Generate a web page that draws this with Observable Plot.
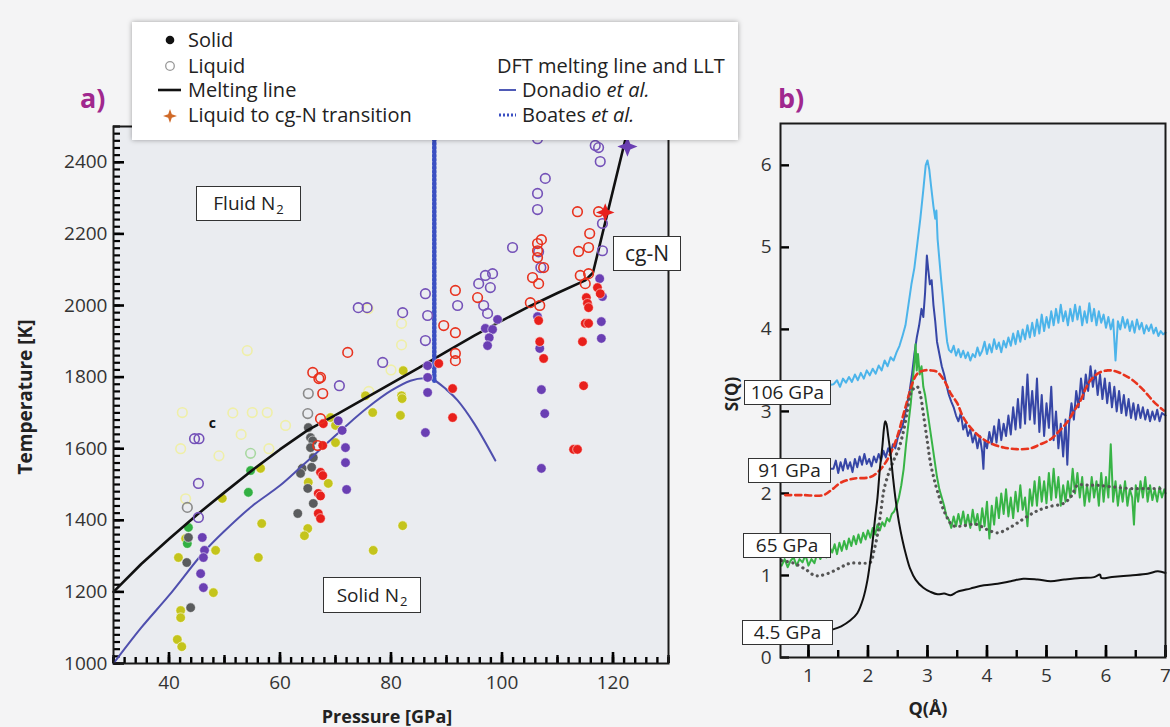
<!DOCTYPE html>
<html>
<head>
<meta charset="utf-8">
<script src="https://cdn.jsdelivr.net/npm/d3@7"></script>
<script src="https://cdn.jsdelivr.net/npm/@observablehq/plot@0.6"></script>
<style>
  body { margin: 0; background: #f4f4f5; font-family: "Open Sans", sans-serif; }
  #wrap { position: relative; width: 1170px; height: 727px; overflow: hidden; background: #f4f4f5; }
  .layer { position: absolute; top: 0; }
  .box { position: absolute; background: #fff; border: 1.5px solid #333; color: #222;
         font-size: 19px; line-height: 1; display: flex; align-items: center; justify-content: center; box-sizing: border-box; white-space: nowrap; }
  .box .sub { font-size: 13px; position: relative; top: 6px; margin-left: 1px; }
  .title { position: absolute; font-weight: bold; color: #222; font-size: 18px; white-space: nowrap; }
  .panel { position: absolute; font-weight: bold; color: #a0288e; font-size: 27px; }
  #legend { position: absolute; left: 132px; top: 22px; width: 606px; height: 118px; background: #fff;
            box-shadow: 0 0 5px rgba(0,0,0,0.35); font-size: 20px; color: #222; }
  #legend .item { position: absolute; white-space: nowrap; line-height: 22px; }
  #legend svg { position: absolute; }
</style>
</head>
<body>
<div id="wrap"></div>
<script>
// ---------------- Panel a data: [Pressure GPa, Temperature K] ----------------
const meltLine = [[30,1200],[35,1278],[40,1348],[45,1415],[50,1478],[55,1540],[60,1598],[65,1652],[70,1694],[75,1738],[80,1782],[85,1826],[90,1871],[95,1916],[100,1958],[105,1998],[110,2035],[115,2070],[116.4,2092],[122.8,2500]];
const donadio = [[30,1000],[35,1100],[40,1190],[46.2,1310],[50,1370],[55,1440],[60,1497],[63.7,1548],[68.6,1617],[72,1665],[75.8,1715],[80,1762],[83.5,1790],[86,1797],[87.7,1792],[90,1765],[92,1735],[95,1670],[98.8,1567]];
const boates = [[87.8,1790],[87.8,2500]];

const purpleSolid = [[46,1352],[46.4,1316],[46.2,1296],[45.7,1251],[46.2,1212],[70.5,1678],[71.2,1651],[71.8,1603],[71.8,1561],[72,1486],[86.2,1645],[86.6,1832],[86.6,1799],[86.6,1757],[97,1936],[98.3,1933],[99.2,1961],[97.7,1910],[97.4,1888],[106.4,1969],[106.8,1880],[107.1,1765],[107.7,1698],[107.1,1545],[117.6,2075],[118.1,2025],[117.9,1955],[117.9,1908]];
const redSolid = [[67.8,1670],[67.7,1609],[67.3,1534],[67.7,1525],[66.9,1475],[67.3,1468],[66.9,1419],[67.3,1405],[88.6,1838],[91.1,1768],[91.1,1687],[106.6,1958],[106.8,1899],[107.5,1852],[117.2,2050],[117.7,2033],[115.2,2022],[115.4,2006],[115.6,1994],[115,1950],[115.6,1950],[114.5,1899],[114.7,1776],[112.9,1598],[113.6,1598]];
const graySolid = [[43.5,1352],[43.2,1282],[43.9,1156],[65.1,1659],[65.5,1631],[65.9,1622],[65.5,1603],[66,1575],[64,1545],[63.7,1531],[65.7,1548],[65,1489],[66,1447],[63.2,1419]];
const greenSolid = [[43.5,1380],[43.3,1335],[54.7,1539],[54.3,1478]];
const yellowSolid = [[41.7,1296],[48.4,1316],[48,1198],[42.1,1148],[42.1,1128],[41.5,1067],[42.3,1047],[56.5,1545],[49.6,1461],[56.7,1391],[56.1,1296],[43,1349],[69.1,1687],[70,1617],[65.1,1506],[68.7,1503],[65,1377],[64.4,1357],[76.7,1701],[81.7,1693],[82.1,1385],[76.8,1316],[82.2,1818],[75.4,1748],[81.9,1748],[82,1740],[70,1665]];
const purpleLiquid = [[44.6,1628],[45.4,1628],[45.3,1503],[45.3,1408],[74.1,1994],[75.7,1994],[82.1,1980],[86.2,2033],[86.6,1972],[86.2,1902],[92,2000],[96.7,2000],[97.4,1978],[98.3,2089],[97,2084],[95.8,2061],[97.9,2050],[78.5,1841],[70.7,1776],[106.4,2466],[107.8,2355],[106.4,2313],[106.4,2268],[101.9,2162],[106.6,2150],[107,2106],[116.8,2447],[117.4,2441],[117.7,2402],[118.1,2229],[118.1,2153]];
const redLiquid = [[67.3,1684],[66.8,1609],[91.6,2042],[95.6,2022],[89.5,1944],[91.6,1924],[91.6,1866],[91.6,1846],[72.2,1869],[65.9,1813],[67,1796],[67.3,1799],[67.7,1754],[106.4,2173],[107.1,2184],[106.4,2153],[106.4,2134],[107.5,2106],[105.5,2078],[106.6,2061],[105.1,2008],[106.8,2000],[113.6,2262],[117.4,2262],[115.8,2201],[115.6,2162],[113.8,2151],[114.1,2084],[115.6,2089],[115,2061]];
const grayLiquid = [[43.3,1436],[65,1698],[65.1,1754]];
const greenLiquid = [[54.7,1587]];
const paleLiquid = [[42.4,1701],[55,1701],[57.7,1701],[42.1,1600],[54.1,1874],[75.9,1991],[81.9,1950],[81.9,1890],[80,1820],[76,1760],[43,1460],[53,1640],[61,1665],[49,1580],[58,1600],[51.5,1700]];
const purpleStar = [[122.6,2444]];
const redStar = [[118.6,2260]];
const strayMark = [{P: 47.8, T: 1670, text: "c"}];

const xTicksA = [40, 60, 80, 100, 120];
const yTicksA = [1000, 1200, 1400, 1600, 1800, 2000, 2200, 2400];

// ---------------- Panel b data: [Q (Å), S(Q)] ----------------
const black45 = [[1.4,0.34],[1.55,0.38],[1.7,0.45],[1.82,0.54],[1.92,0.72],[1.99,0.94],[2.06,1.3],[2.12,1.7],[2.16,1.95],[2.2,2.3],[2.24,2.56],[2.27,2.8],[2.29,2.88],[2.31,2.85],[2.34,2.7],[2.38,2.48],[2.42,2.2],[2.46,1.95],[2.52,1.65],[2.58,1.43],[2.64,1.25],[2.71,1.08],[2.8,0.95],[2.93,0.85],[3.05,0.8],[3.17,0.77],[3.28,0.78],[3.39,0.76],[3.5,0.8],[3.72,0.84],[3.95,0.88],[4.18,0.9],[4.4,0.93],[4.61,0.96],[4.85,0.95],[5.07,0.93],[5.3,0.95],[5.57,0.97],[5.8,0.98],[5.9,1.01],[5.92,0.97],[6.1,0.98],[6.41,1.0],[6.7,1.02],[6.87,1.05],[7.0,1.03]];
const gray65 = [[0.55,1.18],[0.75,1.15],[0.98,1.06],[1.1,1.0],[1.2,1.0],[1.35,1.03],[1.49,1.08],[1.6,1.12],[1.71,1.15],[1.9,1.15],[2.04,1.16],[2.1,1.3],[2.16,1.5],[2.22,1.8],[2.27,2.05],[2.35,2.25],[2.43,2.4],[2.52,2.55],[2.6,2.77],[2.66,3.0],[2.71,3.2],[2.77,3.28],[2.83,3.3],[2.88,3.2],[2.93,2.97],[3.0,2.62],[3.05,2.37],[3.11,2.18],[3.17,2.02],[3.27,1.8],[3.35,1.68],[3.42,1.61],[3.55,1.6],[3.7,1.62],[3.84,1.62],[4.0,1.56],[4.18,1.52],[4.35,1.57],[4.51,1.64],[4.7,1.73],[4.85,1.79],[5.05,1.84],[5.29,1.88],[5.42,1.97],[5.52,2.1],[5.7,2.1],[5.86,2.1],[6.1,2.08],[6.41,2.06],[6.7,2.06],[6.97,2.06]];
const red91 = [[0.61,1.98],[0.9,1.98],[1.25,1.98],[1.4,2.05],[1.54,2.13],[1.75,2.18],[2.04,2.2],[2.18,2.27],[2.29,2.37],[2.4,2.52],[2.5,2.71],[2.58,2.92],[2.66,3.13],[2.75,3.35],[2.83,3.46],[2.94,3.5],[3.05,3.5],[3.14,3.49],[3.22,3.44],[3.31,3.34],[3.39,3.22],[3.5,3.1],[3.6,2.93],[3.75,2.78],[3.94,2.66],[4.1,2.6],[4.28,2.56],[4.5,2.54],[4.73,2.55],[4.9,2.6],[5.07,2.66],[5.2,2.75],[5.35,2.87],[5.46,3.0],[5.57,3.13],[5.66,3.28],[5.74,3.38],[5.88,3.47],[6.03,3.5],[6.16,3.49],[6.29,3.45],[6.45,3.38],[6.63,3.26],[6.8,3.12],[6.97,3.01]];
const lightBlue106 = [[0.6,3.22],[0.8,3.25],[1.0,3.27],[1.2,3.3],[1.42,3.33],[1.48,3.38],[1.53,3.3],[1.58,3.4],[1.63,3.35],[1.68,3.42],[1.73,3.36],[1.78,3.45],[1.83,3.38],[1.88,3.47],[1.93,3.4],[1.98,3.5],[2.03,3.44],[2.08,3.52],[2.13,3.46],[2.18,3.56],[2.23,3.5],[2.28,3.62],[2.33,3.55],[2.38,3.66],[2.43,3.62],[2.48,3.72],[2.53,3.8],[2.58,3.92],[2.63,4.05],[2.68,4.3],[2.73,4.55],[2.78,4.75],[2.83,5.05],[2.88,5.35],[2.93,5.7],[2.97,6.0],[3.0,6.06],[3.03,5.95],[3.06,5.75],[3.1,5.5],[3.13,5.35],[3.15,5.45],[3.17,5.1],[3.2,4.85],[3.23,4.6],[3.27,4.3],[3.3,4.05],[3.33,3.85],[3.36,3.75],[3.4,3.72],[3.44,3.8],[3.48,3.68],[3.52,3.76],[3.56,3.66],[3.6,3.74],[3.64,3.65],[3.68,3.72],[3.72,3.62],[3.76,3.7],[3.8,3.66],[3.84,3.78],[3.88,3.68],[3.92,3.74],[3.96,3.85],[4.0,3.7],[4.04,3.82],[4.08,3.72],[4.12,3.88],[4.16,3.76],[4.2,3.84],[4.24,3.72],[4.28,3.86],[4.32,3.78],[4.36,3.9],[4.4,3.8],[4.44,3.95],[4.48,3.82],[4.52,3.98],[4.56,3.85],[4.6,4.0],[4.64,3.88],[4.68,4.05],[4.72,3.9],[4.76,4.08],[4.8,3.92],[4.84,4.12],[4.88,3.95],[4.92,4.18],[4.96,3.98],[5.0,4.15],[5.04,4.02],[5.08,4.22],[5.12,4.05],[5.16,4.25],[5.2,4.08],[5.24,4.3],[5.28,4.1],[5.32,4.22],[5.36,4.05],[5.4,4.25],[5.44,4.1],[5.48,4.3],[5.52,4.12],[5.56,4.28],[5.6,4.05],[5.64,4.22],[5.68,4.08],[5.72,4.32],[5.76,4.1],[5.8,4.25],[5.84,4.05],[5.88,4.22],[5.92,4.08],[5.96,4.18],[6.0,4.02],[6.04,4.15],[6.08,4.0],[6.12,4.12],[6.16,3.62],[6.2,4.1],[6.24,4.0],[6.28,4.15],[6.32,4.02],[6.36,4.12],[6.4,3.98],[6.44,4.1],[6.48,3.96],[6.52,4.12],[6.56,4.0],[6.6,4.08],[6.64,3.95],[6.68,4.05],[6.72,3.98],[6.76,4.06],[6.8,3.95],[6.84,4.02],[6.88,3.92],[6.92,3.98],[6.96,3.94],[7.0,3.96]];
const blue91 = [[0.6,2.3],[0.9,2.28],[1.2,2.3],[1.42,2.3],[1.46,2.4],[1.5,2.25],[1.54,2.38],[1.58,2.28],[1.62,2.42],[1.66,2.3],[1.7,2.38],[1.74,2.26],[1.78,2.42],[1.82,2.32],[1.86,2.45],[1.9,2.35],[1.94,2.48],[1.98,2.36],[2.02,2.42],[2.06,2.33],[2.1,2.45],[2.14,2.38],[2.18,2.48],[2.22,2.4],[2.26,2.52],[2.3,2.44],[2.34,2.55],[2.38,2.48],[2.42,2.6],[2.46,2.55],[2.5,2.68],[2.54,2.75],[2.58,2.82],[2.62,2.95],[2.66,3.1],[2.7,3.25],[2.74,3.45],[2.78,3.7],[2.82,3.9],[2.86,4.05],[2.9,4.25],[2.93,4.15],[2.96,4.45],[2.99,4.9],[3.01,4.75],[3.04,4.55],[3.07,4.6],[3.1,4.3],[3.13,4.1],[3.16,3.85],[3.2,3.7],[3.24,3.55],[3.28,3.45],[3.32,3.32],[3.36,3.2],[3.4,3.12],[3.44,3.05],[3.48,2.95],[3.52,2.88],[3.56,2.98],[3.6,2.78],[3.64,2.85],[3.68,2.7],[3.72,2.78],[3.76,2.62],[3.8,2.72],[3.84,2.55],[3.88,2.7],[3.92,2.5],[3.94,2.3],[3.96,2.65],[4.0,2.55],[4.04,2.75],[4.08,2.6],[4.12,2.82],[4.16,2.62],[4.2,2.9],[4.24,2.65],[4.28,2.85],[4.32,2.7],[4.36,2.95],[4.4,2.72],[4.44,3.05],[4.48,2.78],[4.52,3.15],[4.56,2.8],[4.6,3.3],[4.64,2.85],[4.68,3.45],[4.72,2.9],[4.76,3.25],[4.8,2.85],[4.84,3.4],[4.88,2.75],[4.92,3.2],[4.96,2.7],[5.0,3.1],[5.04,2.8],[5.08,3.3],[5.12,2.65],[5.16,3.0],[5.2,2.55],[5.24,2.85],[5.28,2.45],[5.32,2.9],[5.35,2.35],[5.38,2.85],[5.42,3.1],[5.46,2.9],[5.5,3.25],[5.54,3.05],[5.58,3.4],[5.62,3.15],[5.66,3.45],[5.7,3.25],[5.74,3.55],[5.78,3.3],[5.82,3.5],[5.86,3.2],[5.9,3.45],[5.94,3.15],[5.98,3.4],[6.02,3.1],[6.06,3.35],[6.1,3.05],[6.14,3.3],[6.18,3.0],[6.22,3.25],[6.26,2.98],[6.3,3.2],[6.34,2.95],[6.38,3.15],[6.42,2.92],[6.46,3.1],[6.5,2.9],[6.54,3.08],[6.58,2.92],[6.62,3.05],[6.66,2.9],[6.7,3.02],[6.74,2.88],[6.78,3.0],[6.82,2.9],[6.86,3.02],[6.9,2.88],[6.94,2.98],[7.0,2.95]];
const green65 = [[0.55,1.12],[0.6,1.2],[0.65,1.1],[0.7,1.18],[0.75,1.22],[0.8,1.12],[0.85,1.2],[0.9,1.16],[0.95,1.25],[1.0,1.12],[1.05,1.2],[1.1,1.15],[1.15,1.28],[1.2,1.2],[1.25,1.3],[1.3,1.22],[1.35,1.35],[1.4,1.28],[1.44,1.38],[1.48,1.26],[1.52,1.4],[1.56,1.3],[1.6,1.42],[1.64,1.32],[1.68,1.45],[1.72,1.36],[1.76,1.48],[1.8,1.38],[1.84,1.5],[1.88,1.4],[1.92,1.52],[1.96,1.44],[2.0,1.55],[2.04,1.46],[2.08,1.58],[2.12,1.5],[2.16,1.62],[2.2,1.55],[2.24,1.65],[2.28,1.6],[2.32,1.7],[2.36,1.66],[2.4,1.75],[2.44,1.78],[2.48,1.85],[2.52,1.95],[2.56,2.1],[2.6,2.3],[2.64,2.6],[2.68,2.85],[2.72,3.1],[2.75,3.35],[2.78,3.6],[2.8,3.82],[2.82,3.5],[2.84,3.7],[2.87,3.45],[2.9,3.55],[2.93,3.3],[2.96,3.2],[3.0,3.0],[3.04,2.8],[3.08,2.6],[3.12,2.4],[3.16,2.2],[3.2,2.05],[3.24,1.95],[3.28,1.85],[3.32,1.72],[3.36,1.68],[3.4,1.58],[3.44,1.72],[3.48,1.6],[3.52,1.75],[3.56,1.62],[3.6,1.78],[3.64,1.6],[3.68,1.74],[3.72,1.58],[3.76,1.8],[3.8,1.62],[3.84,1.75],[3.88,1.55],[3.92,1.82],[3.96,1.6],[4.0,1.9],[4.04,1.45],[4.08,1.85],[4.12,1.62],[4.16,1.95],[4.2,1.7],[4.24,2.0],[4.28,1.75],[4.32,2.05],[4.36,1.72],[4.4,1.95],[4.44,1.7],[4.48,2.02],[4.52,1.78],[4.56,2.1],[4.6,1.8],[4.64,1.95],[4.68,1.6],[4.72,2.05],[4.76,1.85],[4.8,2.15],[4.84,1.85],[4.88,2.2],[4.92,1.9],[4.96,2.15],[5.0,1.88],[5.04,2.25],[5.08,1.92],[5.12,2.3],[5.16,1.95],[5.2,2.2],[5.24,1.85],[5.28,2.1],[5.32,1.9],[5.36,2.15],[5.4,1.95],[5.44,2.3],[5.48,2.0],[5.52,2.25],[5.56,1.95],[5.6,2.2],[5.64,1.85],[5.68,2.1],[5.72,1.9],[5.76,2.2],[5.8,1.95],[5.84,2.15],[5.88,1.85],[5.92,2.25],[5.96,1.9],[6.0,2.2],[6.04,1.95],[6.08,2.6],[6.12,1.9],[6.16,2.15],[6.2,1.85],[6.24,2.1],[6.28,1.9],[6.32,2.15],[6.36,1.85],[6.4,2.05],[6.44,1.95],[6.47,1.62],[6.5,2.1],[6.54,1.9],[6.58,2.15],[6.62,1.95],[6.66,2.2],[6.7,1.9],[6.74,2.1],[6.78,1.92],[6.82,2.05],[6.86,1.9],[6.9,2.08],[6.94,1.95],[6.98,2.05],[7.0,2.0]];
const xTicksB = [1, 2, 3, 4, 5, 6, 7];
const yTicksB = [0, 1, 2, 3, 4, 5, 6];

// ---------------- drawing ----------------
const wrap = document.getElementById("wrap");
const star4 = { draw(ctx, size) { const r = Math.sqrt(size) * 0.95, i = r * 0.28;
  ctx.moveTo(0,-r); ctx.lineTo(i,-i); ctx.lineTo(r,0); ctx.lineTo(i,i); ctx.lineTo(0,r); ctx.lineTo(-i,i); ctx.lineTo(-r,0); ctx.lineTo(-i,-i); ctx.closePath(); } };

const A = {w: 700, h: 727, ml: 113, mr: 32, mt: 126, mb: 64, x: [30, 130], y: [1000, 2500]};
const B = {w: 470, h: 727, ml: 80, mr: 5, mt: 123, mb: 70, x: [0.53, 7], y: [0, 6.51]};

// inward tick marks: pixel lengths converted to each panel's data units
function inTicksX(P, values, lenPx, sw) {
  const k = (P.y[1] - P.y[0]) / (P.h - P.mt - P.mb);
  return Plot.ruleX(values, {x: d => d, y1: P.y[0], y2: P.y[0] + lenPx * k, stroke: "black", strokeWidth: sw});
}
function inTicksY(P, values, lenPx, sw) {
  const k = (P.x[1] - P.x[0]) / (P.w - P.ml - P.mr);
  return Plot.ruleY(values, {y: d => d, x1: P.x[0], x2: P.x[0] + lenPx * k, stroke: "black", strokeWidth: sw});
}

const baseStyle = {background: "transparent", fontFamily: "'Open Sans', sans-serif", fontSize: "19px", color: "#333", overflow: "visible"};
const solidDot = (data, fill) => Plot.dot(data, {fill, r: 4.8, stroke: "#ffffff", strokeWidth: 0.8, strokeOpacity: 0.7});
const openDot = (data, stroke) => Plot.dot(data, {stroke, fill: "none", r: 4.8, strokeWidth: 1.6});

const plotA = Plot.plot({
  width: A.w, height: A.h, marginLeft: A.ml, marginRight: A.mr, marginTop: A.mt, marginBottom: A.mb,
  x: {domain: A.x}, y: {domain: A.y},
  style: baseStyle,
  marks: [
    Plot.frame({fill: "#eaecf0", stroke: "none"}),
    inTicksX(A, d3.range(30, 131, 2), 6, 2.4),
    inTicksX(A, d3.range(30, 131, 10), 8, 2.4),
    inTicksX(A, xTicksA, 11, 2.6),
    inTicksY(A, d3.range(1000, 2501, 20), 7, 2.2),
    inTicksY(A, yTicksA, 11, 2.6),
    openDot(paleLiquid, "#efefa8"),
    openDot(greenLiquid, "#a8d8a0"),
    openDot(grayLiquid, "#8a8a8a"),
    solidDot(yellowSolid, "#c4c41c"),
    solidDot(greenSolid, "#33b043"),
    solidDot(graySolid, "#5a5c5e"),
    Plot.line(meltLine, {stroke: "#111", strokeWidth: 2.6}),
    Plot.line(donadio, {stroke: "#4f4fae", strokeWidth: 2, curve: "catmull-rom"}),
    Plot.line(boates, {stroke: "#3a4fc2", strokeWidth: 4.5, strokeDasharray: "2,2"}),
    solidDot(purpleSolid, "#6a3fb3"),
    solidDot(redSolid, "#e8201c"),
    openDot(purpleLiquid, "#7451b8"),
    openDot(redLiquid, "#e8321e"),
    Plot.dot(purpleStar, {symbol: star4, r: 6, fill: "#6a3fb3"}),
    Plot.dot(redStar, {symbol: star4, r: 5.5, fill: "#e8201c"}),
    Plot.text(strayMark, {x: "P", y: "T", text: "text", fill: "#111", fontSize: 14, fontWeight: "bold"}),
    Plot.axisX({ticks: xTicksA, tickSize: 0, tickPadding: 12, tickFormat: d => String(d), label: null}),
    Plot.axisY({ticks: yTicksA, tickSize: 0, tickPadding: 6, tickFormat: d => String(d), label: null}),
    Plot.frame({stroke: "#1a1a1a", strokeWidth: 2})
  ]
});

const plotB = Plot.plot({
  width: B.w, height: B.h, marginLeft: B.ml, marginRight: B.mr, marginTop: B.mt, marginBottom: B.mb,
  x: {domain: B.x}, y: {domain: B.y},
  style: baseStyle,
  marks: [
    Plot.frame({fill: "#eaecf0", stroke: "none"}),
    inTicksX(B, d3.range(1, 7.01, 0.5), 7, 2.4),
    inTicksX(B, xTicksB, 12, 2.6),
    inTicksY(B, yTicksB, 9, 2.4),
    Plot.line(lightBlue106, {stroke: "#4cb4ea", strokeWidth: 2}),
    Plot.line(blue91, {stroke: "#3646a6", strokeWidth: 2}),
    Plot.line(green65, {stroke: "#38b446", strokeWidth: 2}),
    Plot.line(red91, {stroke: "#e8341e", strokeWidth: 2.6, strokeDasharray: "6,4", curve: "catmull-rom"}),
    Plot.line(gray65, {stroke: "#555", strokeWidth: 3.2, strokeDasharray: "0.1,5.5", strokeLinecap: "round", curve: "catmull-rom"}),
    Plot.line(black45, {stroke: "#111", strokeWidth: 2, curve: "catmull-rom"}),
    Plot.axisX({ticks: xTicksB, tickSize: 0, tickPadding: 11, tickFormat: d => String(d), label: null}),
    Plot.axisY({ticks: yTicksB, tickSize: 0, tickPadding: 9, tickFormat: d => String(d), label: null}),
    Plot.frame({stroke: "#1a1a1a", strokeWidth: 2})
  ]
});

function place(node, left) { const d = document.createElement("div"); d.className = "layer"; d.style.left = left + "px"; d.appendChild(node); wrap.appendChild(d); }
place(plotA, 0);
place(plotB, 700);

function addHTML(html) { wrap.insertAdjacentHTML("beforeend", html); }
// panel letters and axis titles
addHTML('<div class="panel" style="left:80px;top:79px;">a)</div>');
addHTML('<div class="panel" style="left:778px;top:79px;">b)</div>');
addHTML('<div class="title" style="left:25px;top:397px;transform:translate(-50%,-50%) rotate(-90deg);font-size:19px;">Temperature [K]</div>');
addHTML('<div class="title" style="left:387px;top:716px;transform:translate(-50%,-50%);">Pressure [GPa]</div>');
addHTML('<div class="title" style="left:731px;top:394px;transform:translate(-50%,-50%) rotate(-90deg);font-size:17px;">S(Q)</div>');
addHTML('<div class="title" style="left:928px;top:708px;transform:translate(-50%,-50%);">Q(Å)</div>');
// region boxes
addHTML('<div class="box" style="left:196px;top:186px;width:105px;height:35px;">Fluid N<span class="sub">2</span></div>');
addHTML('<div class="box" style="left:323px;top:577px;width:98px;height:36px;">Solid N<span class="sub">2</span></div>');
addHTML('<div class="box" style="left:613px;top:236px;width:68px;height:35px;font-size:21px;">cg-N</div>');
// pressure labels panel b
addHTML('<div class="box" style="left:744px;top:380px;width:87px;height:25px;">106 GPa</div>');
addHTML('<div class="box" style="left:748px;top:458px;width:83px;height:25px;">91 GPa</div>');
addHTML('<div class="box" style="left:743px;top:533px;width:88px;height:25px;">65 GPa</div>');
addHTML('<div class="box" style="left:742px;top:620px;width:91px;height:25px;">4.5 GPa</div>');
// legend
addHTML(`<div id="legend">
  <svg style="left:31px;top:11px" width="14" height="14"><circle cx="7" cy="7" r="4.3" fill="#111"/></svg>
  <div class="item" style="left:56px;top:7px;">Solid</div>
  <svg style="left:31px;top:37px" width="14" height="14"><circle cx="7" cy="7" r="4.3" fill="none" stroke="#999" stroke-width="1.3"/></svg>
  <div class="item" style="left:56px;top:33px;">Liquid</div>
  <svg style="left:25px;top:61px" width="26" height="14"><line x1="1" y1="7" x2="24" y2="7" stroke="#111" stroke-width="2.6"/></svg>
  <div class="item" style="left:56px;top:57px;">Melting line</div>
  <svg style="left:30px;top:86px" width="16" height="16"><path d="M8,1 L9.8,6.2 L15,8 L9.8,9.8 L8,15 L6.2,9.8 L1,8 L6.2,6.2 Z" fill="#d06a28"/></svg>
  <div class="item" style="left:56px;top:82px;">Liquid to cg-N transition</div>
  <div class="item" style="left:365px;top:33px;">DFT melting line and LLT</div>
  <svg style="left:366px;top:61px" width="20" height="14"><line x1="1" y1="7" x2="18" y2="7" stroke="#4f5ab6" stroke-width="2"/></svg>
  <div class="item" style="left:390px;top:57px;">Donadio <i>et al.</i></div>
  <svg style="left:366px;top:86px" width="20" height="14"><line x1="1" y1="7" x2="18" y2="7" stroke="#3a4fc2" stroke-width="3" stroke-dasharray="2,2"/></svg>
  <div class="item" style="left:390px;top:82px;">Boates <i>et al.</i></div>
</div>`);
</script>
</body>
</html>
